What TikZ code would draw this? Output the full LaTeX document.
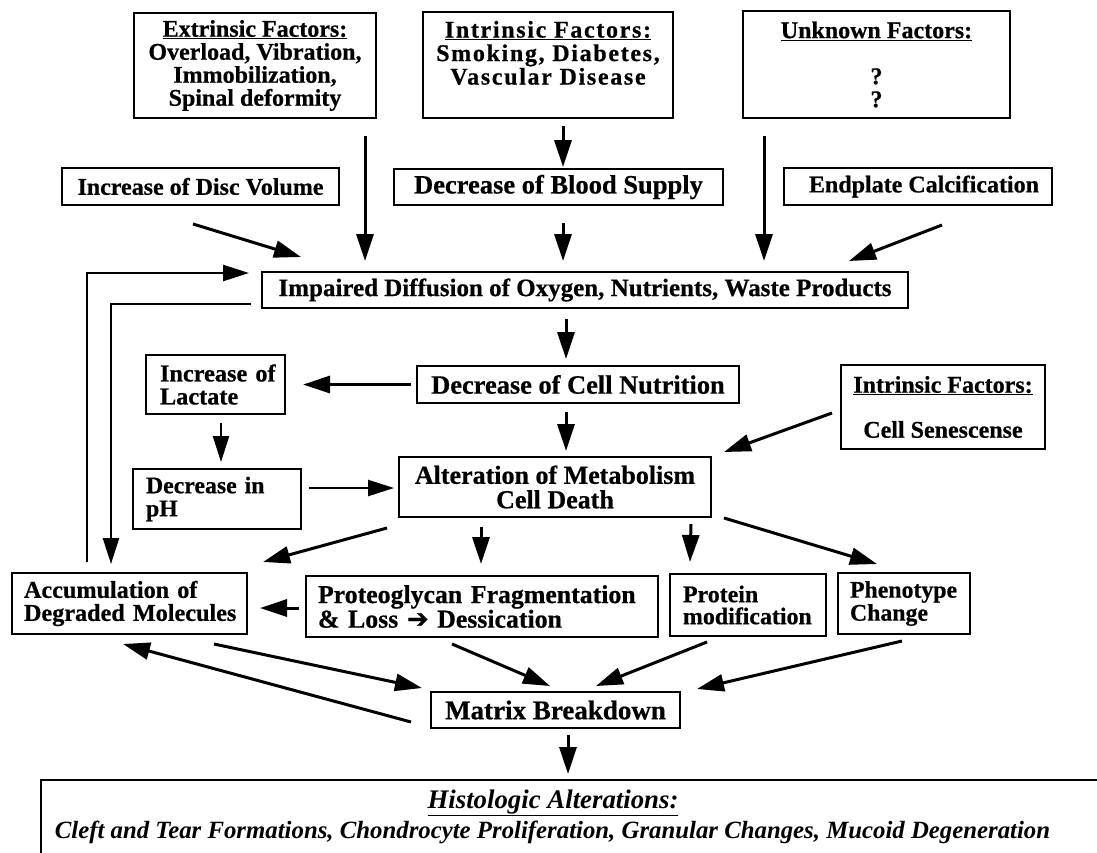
\documentclass[tikz,border=0pt]{standalone}
\usepackage{fontspec}
\setmainfont{Liberation Serif}[BoldFeatures={FakeBold=0.6}]
\newfontfamily\arrowfont{DejaVu Sans}[FakeBold=0.6]
\usetikzlibrary{arrows.meta,calc}
\newcommand\fs[2]{\fontsize{#1}{#2}\selectfont\bfseries}
\begin{document}
\begin{tikzpicture}[x=1pt,y=-1pt,
  box/.style={draw, line width=2pt, inner sep=0pt, align=center},
  lbox/.style={draw, line width=2pt, inner ysep=0pt, align=left},
  arr/.style={line width=3pt, -{Triangle[length=27pt,width=17pt]}},
  farr/.style={line width=2.5pt, -{Triangle[length=26pt,width=16pt]}}]
\useasboundingbox[fill=white] (0,0) rectangle (1097,852);

% top row
\node[box, minimum width=242pt, minimum height=105pt, font=\fs{24}{23}] (extr) at (255,65.5)
  {\underline{Extrinsic Factors:}\\Overload, Vibration,\\Immobilization,\\Spinal deformity};
\node[box, minimum width=250pt, minimum height=106pt, font=\fs{24}{23.5}\addfontfeature{LetterSpace=7}] (intr) at (548,65)
  {\underline{Intrinsic Factors:}\\Smoking, Diabetes,\\Vascular Disease\\[-6pt]\strut};
\node[box, minimum width=267pt, minimum height=107pt, font=\fs{24}{23}] (unk) at (876.5,64.5)
  {\underline{Unknown Factors:}\\\strut\\?\\?};

% second row
\node[box, minimum width=277pt, minimum height=37pt, font=\fs{24}{23}] (disc) at (200.5,186.5) {Increase of Disc Volume};
\node[box, minimum width=329pt, minimum height=36pt, font=\fs{26.5}{24}] (blood) at (558.5,187) {Decrease of Blood Supply};
\node[box, minimum width=268pt, minimum height=37pt, font=\fs{24}{23}] (endp) at (918,186.5) {\hspace*{12pt}Endplate Calcification};

% impaired diffusion
\node[box, minimum width=646pt, minimum height=36pt, font=\fs{25}{24}] (imp) at (585,290)
  {Impaired Diffusion of Oxygen, Nutrients, Waste Products};

% middle
\node[lbox, inner xsep=14pt, text width=111pt, minimum height=59pt, font=\fs{24.3}{23}] (lact) at (215.5,384.5)
  {\mbox{Increase of}\\\mbox{Lactate}};
\node[box, minimum width=322pt, minimum height=37pt, font=\fs{26.4}{24}] (nutr) at (578,384.5) {Decrease of Cell Nutrition};
\node[box, minimum width=204pt, minimum height=84pt, font=\fs{24}{23}] (sen) at (943,407)
  {\underline{Intrinsic Factors:}\\[22pt]Cell Senescense};
\node[lbox, inner xsep=13pt, text width=142pt, minimum height=60pt, font=\fs{23.8}{23}] (ph) at (217,499)
  {\mbox{Decrease in}\\\mbox{pH}};
\node[box, minimum width=312pt, minimum height=60pt, font=\fs{26}{24.5}] (alt) at (555,487)
  {Alteration of Metabolism\\Cell Death};

% lower row
\node[lbox, inner xsep=12pt, text width=211pt, minimum height=61pt, font=\fs{24.2}{23}] (acc) at (129.5,603.5)
  {\mbox{Accumulation of}\\\mbox{Degraded Molecules}};
\node[lbox, inner xsep=12pt, text width=328pt, minimum height=61pt, font=\fs{25.8}{23}] (prot) at (482,606.5)
  {\mbox{Proteoglycan Fragmentation}\\\mbox{\& Loss {\arrowfont\fontsize{26}{26}\selectfont ➔} Dessication}};
\node[lbox, inner xsep=13pt, text width=130pt, minimum height=62pt, font=\fs{23.9}{22}] (protm) at (748,605)
  {\mbox{Protein}\\\mbox{modification}};
\node[lbox, inner xsep=12pt, text width=108pt, minimum height=61pt, font=\fs{23.8}{23}] (phen) at (904,603.5)
  {\mbox{Phenotype}\\\mbox{Change}};

\node[box, minimum width=249pt, minimum height=36pt, font=\fs{27}{24}] (mat) at (555.5,710) {Matrix Breakdown};

% histologic box
\node[draw, line width=2pt, minimum width=1059pt, minimum height=90pt, inner sep=0pt] (hist) at (570.5,825) {};
\node[anchor=base, inner sep=0pt, font=\fs{26.8}{26}\itshape] (histt) at (553,808) {\underline{Histologic Alterations:}};
\node[anchor=base, inner sep=0pt, font=\fs{24.8}{24}\itshape] (histb) at (552.5,838)
  {Cleft and Tear Formations, Chondrocyte Proliferation, Granular Changes, Mucoid Degeneration};

% connectors
\draw[arr] ($(extr.south)+(110,17)$) -- ($(imp.north)+(-220,-10)$);
\draw[arr] ($(intr.south)+(15,7)$) -- ($(blood.north)+(4.5,-1)$);
\draw[arr] ($(blood.south)+(4.5,17)$) -- ($(imp.north)+(-22,-10)$);
\draw[arr] ($(unk.south)+(-112.5,17)$) -- ($(imp.north)+(179,-10)$);
\draw[arr] ($(disc.south)+(-7.5,18)$) -- ($(imp.north west)+(40,-14)$);
\draw[arr] ($(endp.south)+(24,19)$) -- ($(imp.north east)+(-60,-10)$);
\draw[farr] ($(acc.north)+(-42.5,-10)$) |- ($(imp.west)+(-12,-17)$);
\draw[farr] ($(imp.west)+(-10,14)$) -| ($(acc.north)+(-18.5,-8)$);
\draw[arr] ($(imp.south)+(-19,10)$) -- ($(nutr.north)+(-12,-6)$);
\draw[arr] ($(nutr.west)+(-5,0)$) -- ($(lact.east)+(17,0)$);
\draw[farr] ($(lact.south)+(5.5,8)$) -- ($(ph.north)+(4,-6)$);
\draw[arr] ($(nutr.south)+(-12,8)$) -- ($(alt.north)+(11,-5)$);
\draw[farr] ($(ph.east)+(7,-11)$) -- ($(alt.west)+(-4,1)$);
\draw[arr] ($(sen.west)+(-8,6)$) -- ($(alt.north east)+(12,-4)$);
\draw[arr] ($(alt.south west)+(-11,10)$) -- ($(acc.north east)+(15,-10)$);
\draw[arr] ($(alt.south)+(-74,9)$) -- ($(prot.north)+(-1,-11)$);
\draw[arr] ($(alt.south east)+(-21,6)$) -- ($(protm.north)+(-58,-11)$);
\draw[arr] ($(alt.south east)+(12,0)$) -- ($(phen.north)+(-27,-8)$);
\draw[arr] ($(prot.west)+(-6,1.5)$) -- ($(acc.east)+(12,4.5)$);
\draw[arr] ($(acc.south)+(84.5,9)$) -- ($(mat.west)+(-8,-22)$);
\draw[arr] ($(mat.west)+(-19,12)$) -- ($(acc.south)+(-6.5,9)$);
\draw[arr] ($(prot.south)+(-30,6)$) -- ($(mat.north)+(-5.5,-5)$);
\draw[arr] ($(protm.south)+(-41,5)$) -- ($(mat.north)+(40.5,-5)$);
\draw[arr] ($(phen.south)+(-2,6)$) -- ($(mat.north east)+(16,-2)$);
\draw[arr] ($(mat.south)+(12.5,6)$) -- ($(hist.north)+(-2.5,-5)$);
\end{tikzpicture}
\end{document}
